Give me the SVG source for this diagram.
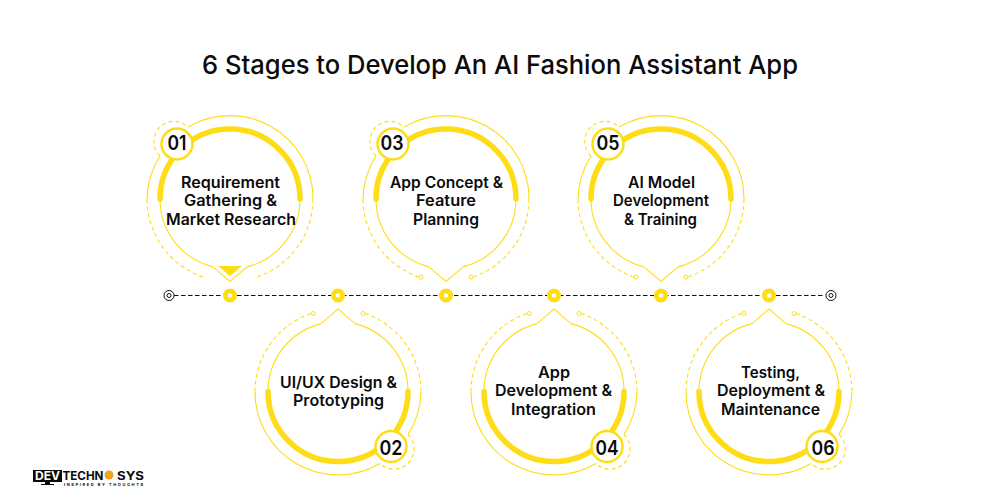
<svg xmlns="http://www.w3.org/2000/svg" width="1000" height="500" viewBox="0 0 1000 500">
<style>
text{font-family:"Inter","Lato","Liberation Sans",sans-serif;fill:#0b0b0b;text-anchor:middle}
.title{font-size:26px;font-weight:500}
.label{font-size:15.500px;font-weight:600}
.num{font-size:20px;font-weight:600}
.thin{fill:none;stroke:#fedd17;stroke-width:1.100}
.thick{fill:none;stroke:#fedd17;stroke-width:5.500;stroke-linecap:round}
.dash{fill:none;stroke:#fedd17;stroke-width:1.100;stroke-dasharray:4 3}
.badge{fill:#fff;stroke:#fedd17;stroke-width:2.500}
.end{fill:#fff;stroke:#fedd17;stroke-width:1}
.dot{fill:#fedd17}
.hole{fill:#fff}
.line{fill:none;stroke:#111;stroke-width:1;stroke-dasharray:4.500 2.500}
.ring{fill:#fff;stroke:#111;stroke-width:1}
</style>
<defs>
<g id="drop">
<path class="thin" d="M-70 0A70 70 0 0 0 -17 67.900L0 82.500L17 67.900A70 70 0 0 0 70 0"/>
<path class="thick" d="M-70 0A70 70 0 0 1 70 0"/>
<path class="thin" d="M-42 -72A83 83 0 0 1 83 0"/>
<path class="thin" d="M-83 0A83 83 0 0 1 -70 -43"/>
<path class="dash" d="M83 0A83 83 0 0 1 27 78"/>
<path class="dash" d="M-27 78A83 83 0 0 1 -83 0"/>
<path class="dash" d="M-70 -43A20 20 0 0 1 -42 -72"/>
<circle class="badge" cx="-53" cy="-55" r="15.500"/>
</g>
<g id="pins">
<circle class="end" cx="-25" cy="78" r="2"/>
<circle class="end" cx="25" cy="78" r="2"/>
</g>
<g id="stop">
<circle class="ring" r="5"/>
<circle class="ring" r="2"/>
</g>
<g id="marker">
<circle class="dot" r="7"/>
<circle class="hole" r="2.200"/>
</g>
</defs>
<rect width="1000" height="500" fill="#fff"/>
<text id="title" class="title" x="500" y="74" textLength="596" lengthAdjust="spacingAndGlyphs">6 Stages to Develop An AI Fashion Assistant App</text>
<g id="connectors">
<path class="line" d="M174 295.500H825"/>
<use href="#stop" x="169" y="295.500"/>
<use href="#stop" x="831" y="295.500"/>
<use href="#marker" x="230" y="295.500"/>
<use href="#marker" x="338" y="295.500"/>
<use href="#marker" x="446" y="295.500"/>
<use href="#marker" x="554" y="295.500"/>
<use href="#marker" x="661" y="295.500"/>
<use href="#marker" x="769" y="295.500"/>
</g>
<g id="node-01">
<use href="#drop" transform="translate(230 199)"/>
<path class="dot" d="M218 266H242L230 276Z"/>
<text class="num" x="177" y="150" textLength="19" lengthAdjust="spacingAndGlyphs">01</text>
<text class="label" x="230.500" y="188" textLength="99" lengthAdjust="spacingAndGlyphs">Requirement</text>
<text class="label" x="230.500" y="206" textLength="93" lengthAdjust="spacingAndGlyphs">Gathering &amp;</text>
<text class="label" x="231" y="225" textLength="130" lengthAdjust="spacingAndGlyphs">Market Research</text>
</g>
<g id="node-02">
<use href="#drop" transform="translate(338 391.500) rotate(180)"/>
<use href="#pins" transform="translate(338 391.500) rotate(180)"/>
<text class="num" x="391" y="455" textLength="23" lengthAdjust="spacingAndGlyphs">02</text>
<text class="label" x="338.500" y="388" textLength="117" lengthAdjust="spacingAndGlyphs">UI/UX Design &amp;</text>
<text class="label" x="338.500" y="406" textLength="91" lengthAdjust="spacingAndGlyphs">Prototyping</text>
</g>
<g id="node-03">
<use href="#drop" transform="translate(446 199)"/>
<use href="#pins" transform="translate(446 199)"/>
<text class="num" x="392" y="150" textLength="23" lengthAdjust="spacingAndGlyphs">03</text>
<text class="label" x="446.500" y="188" textLength="113" lengthAdjust="spacingAndGlyphs">App Concept &amp;</text>
<text class="label" x="446" y="206" textLength="60" lengthAdjust="spacingAndGlyphs">Feature</text>
<text class="label" x="446" y="225" textLength="66" lengthAdjust="spacingAndGlyphs">Planning</text>
</g>
<g id="node-04">
<use href="#drop" transform="translate(554 391.500) rotate(180)"/>
<use href="#pins" transform="translate(554 391.500) rotate(180)"/>
<text class="num" x="607" y="455" textLength="23" lengthAdjust="spacingAndGlyphs">04</text>
<text class="label" x="554" y="378" textLength="32" lengthAdjust="spacingAndGlyphs">App</text>
<text class="label" x="553.500" y="396" textLength="117" lengthAdjust="spacingAndGlyphs">Development &amp;</text>
<text class="label" x="553.500" y="415" textLength="85" lengthAdjust="spacingAndGlyphs">Integration</text>
</g>
<g id="node-05">
<use href="#drop" transform="translate(661 199)"/>
<use href="#pins" transform="translate(661 199)"/>
<text class="num" x="608" y="150" textLength="23" lengthAdjust="spacingAndGlyphs">05</text>
<text class="label" x="661.500" y="188" textLength="67" lengthAdjust="spacingAndGlyphs">AI Model</text>
<text class="label" x="661" y="206" textLength="96" lengthAdjust="spacingAndGlyphs">Development</text>
<text class="label" x="660.500" y="225" textLength="73" lengthAdjust="spacingAndGlyphs">&amp; Training</text>
</g>
<g id="node-06">
<use href="#drop" transform="translate(769 391.500) rotate(180)"/>
<use href="#pins" transform="translate(769 391.500) rotate(180)"/>
<text class="num" x="823" y="455" textLength="23" lengthAdjust="spacingAndGlyphs">06</text>
<text class="label" x="770.500" y="378" textLength="59" lengthAdjust="spacingAndGlyphs">Testing,</text>
<text class="label" x="771" y="396" textLength="108" lengthAdjust="spacingAndGlyphs">Deployment &amp;</text>
<text class="label" x="770.500" y="415" textLength="99" lengthAdjust="spacingAndGlyphs">Maintenance</text>
</g>
<g id="logo">
<path fill="#0b0b0b" d="M33 470H62V482H50V484H54V485H41V484H45V482H33Z"/>
<text x="47.500" y="480" font-size="12" font-weight="700" style="fill:#fff" textLength="25" lengthAdjust="spacingAndGlyphs">DEV</text>
<text x="83" y="479.500" font-size="12" font-weight="700" textLength="41" lengthAdjust="spacingAndGlyphs">TECHN</text>
<circle cx="109" cy="475" r="4.500" fill="#f4a21e"/>
<text x="130.500" y="479.500" font-size="12" font-weight="700" textLength="27" lengthAdjust="spacingAndGlyphs">SYS</text>
<text x="103.500" y="486" font-size="4" font-weight="700" textLength="79" lengthAdjust="spacing">INSPIRED BY THOUGHTS</text>
</g>
</svg>
